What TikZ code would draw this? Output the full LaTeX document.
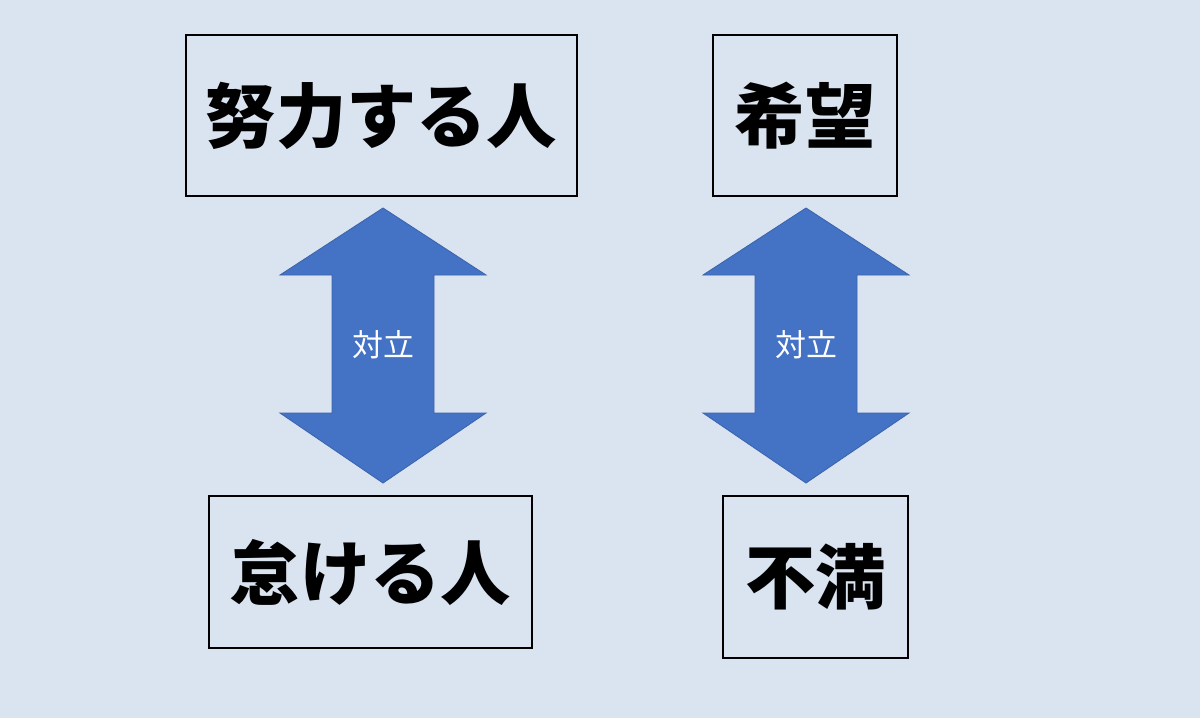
\documentclass[tikz,border=0pt]{standalone}
\usepackage{fontspec}
\newfontfamily\cjk{Noto Sans CJK JP}
\usepackage{tikz}
\usetikzlibrary{positioning}
\definecolor{bgblue}{HTML}{DAE3F0}
\definecolor{arrblue}{HTML}{4472C4}
\definecolor{arredge}{HTML}{3A64AE}
\tikzset{>=latex}
\tikzstyle{word} = [rectangle, draw=black, thick, inner sep=0pt, font=\cjk\bfseries\fontsize{50}{60}\selectfont]
\tikzstyle{tag} = [text=white, font=\cjk\fontsize{22}{26}\selectfont]
\tikzstyle{dblarrow} = [fill=arrblue, draw=arredge, line width=0.6pt]

\begin{document}
\begin{tikzpicture}[x=0.025cm, y=-0.025cm]
\fill [bgblue] (0, 0) rectangle (1200, 718);
\useasboundingbox (0, 0) rectangle (1200, 718);
% boxes
\node [word, minimum width=391*0.025cm, minimum height=161*0.025cm] (work) at (381.5, 115.5) {努力する人};
\node [word, minimum width=184*0.025cm, minimum height=161*0.025cm] (hope) at (805, 115.5) {希望};
\node [word, minimum width=323*0.025cm, minimum height=152*0.025cm] (lazy) at (370.5, 572) {怠ける人};
\node [word, minimum width=185*0.025cm, minimum height=162*0.025cm] (discon) at (815.5, 577) {不満};
% opposition arrows
\foreach \cx/\nm in {383/left, 806/right} {
  \draw [dblarrow] (\cx, 208) -- (\cx+103, 275) -- (\cx+51, 275) -- (\cx+51, 413)
    -- (\cx+103, 413) -- (\cx, 483) -- (\cx-103, 413) -- (\cx-51, 413)
    -- (\cx-51, 275) -- (\cx-103, 275) -- cycle;
  \node [tag] (opp\nm) at (\cx, 345) {対立};
}
\end{tikzpicture}
\end{document}
